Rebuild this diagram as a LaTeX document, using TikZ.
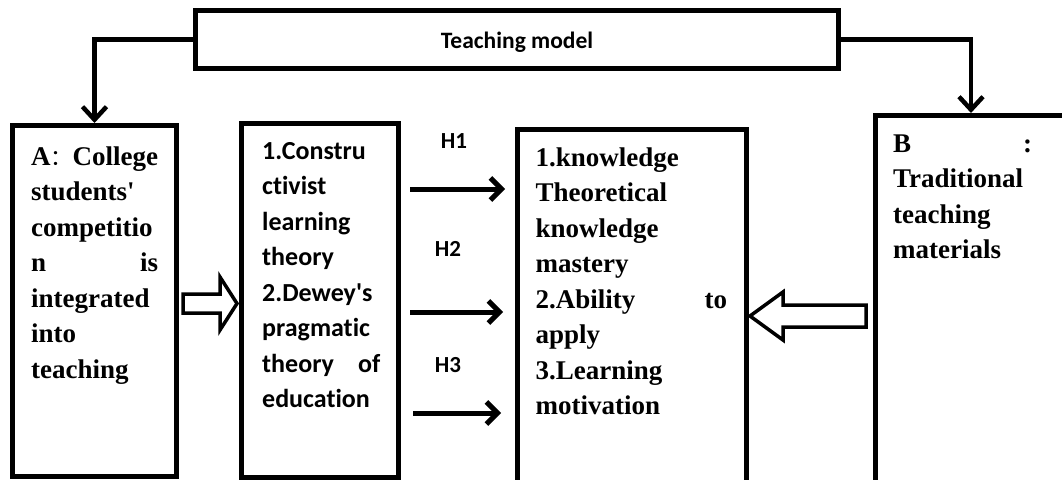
\documentclass[tikz,border=0pt]{standalone}
\usepackage{fontspec}
\setmainfont{Liberation Serif}
\newfontfamily\calfont{Carlito}[Ligatures=NoCommon]
\newfontfamily\cjkfont{Noto Sans CJK SC}
\usetikzlibrary{arrows.meta,calc}

\tikzset{
  box/.style={draw, line width=5pt, inner sep=0pt},
  serif text/.style={anchor=base west, align=left, inner sep=0pt,
    font=\bfseries\fontsize{27}{35.5}\selectfont},
  sans text/.style={anchor=base west, align=left, inner sep=0pt,
    font=\calfont\bfseries\fontsize{26}{35.5}\selectfont},
  hlabel/.style={inner sep=0pt, font=\calfont\bfseries\fontsize{23}{23}\selectfont},
  conn/.style={line width=4.5pt, -{Straight Barb[length=13pt,width=24pt]}},
  harrow/.style={line width=5pt, -{Straight Barb[length=11pt,width=22pt]}},
  hollow/.style={draw, line width=3.5pt, line join=miter},
}

\begin{document}
\begin{tikzpicture}[x=1pt,y=-1pt]
\useasboundingbox (0,0) rectangle (1062,479);
\fill[white] (0,0) rectangle (1062,479);
\clip (0,0) rectangle (1062,479);

% header box
\node[box, minimum width=643pt, minimum height=57.5pt,
      font=\calfont\bfseries\fontsize{23.5}{23.5}\selectfont,
      text height=17.5pt, text depth=0pt] (top) at (517,39.25) {Teaching model};

% the four columns
\node[box, minimum width=164pt, minimum height=350.5pt] (A) at (94.5,300.75) {};
\node[box, minimum width=157pt, minimum height=353.5pt] (M) at (320,300.25) {};
\node[box, minimum width=229pt, minimum height=390.5pt] (R) at (632,324.75) {};
\node[box, minimum width=225pt, minimum height=404.5pt] (B) at (987.5,317.75) {};

% column texts
\node[serif text, text width=127pt] (Atext) at ($(A.north west)+(21,42)$)
  {A{\cjkfont\mdseries\fontsize{22}{22}\selectfont ：}College\\
   students\textquotesingle\\ competitio\\ n\hfill is\\ integrated\\ into\\ teaching};
\node[sans text, text width=118pt] (Mtext) at ($(M.north west)+(23,38)$)
  {1.Constru\\ ctivist\\ learning\\ theory\\ 2.Dewey\textquotesingle s\\ pragmatic\\
   theory\hfill of\\ education};
\node[serif text, text width=191.5pt] (Rtext) at ($(R.north west)+(20.5,39)$)
  {1.knowledge\\ Theoretical\\ knowledge\\ mastery\\ 2.Ability\hfill to\\
   apply\\ 3.Learning\\ motivation};
\node[serif text, text width=139pt] (Btext) at ($(B.north west)+(20.5,39)$)
  {B\hfill :\\ Traditional\\ teaching\\ materials};

% header connectors
\draw[conn] (top.west) -| (A.north);
\draw[conn] (top.east) -| ([xshift=98.5pt]B.north west);

% hypothesis arrows
\coordinate (h1s) at (410,189); \coordinate (h1e) at (505,189);
\coordinate (h2s) at (410,312); \coordinate (h2e) at (503,312);
\coordinate (h3s) at (413,413); \coordinate (h3e) at (501,413);
\draw[harrow] (h1s) -- (h1e);
\draw[harrow] (h2s) -- (h2e);
\draw[harrow] (h3s) -- (h3e);
\node[hlabel] (H1) at (454,141.5) {H1};
\node[hlabel] (H2) at (448,249) {H2};
\node[hlabel] (H3) at (448,365) {H3};

% block arrows
\coordinate (ltail) at (183,294);
\draw[hollow] (ltail) -- ++(37,0) -- ++(0,-17) -- ++(17,26.5) -- ++(-17,26.5)
  -- ++(0,-17) -- ++(-37,0) -- cycle;
\coordinate (rtip) at (750,316);
\draw[hollow] (rtip) -- ++(33,-24) -- ++(0,13) -- ++(83,0) -- ++(0,22)
  -- ++(-83,0) -- ++(0,13) -- cycle;
\end{tikzpicture}
\end{document}
